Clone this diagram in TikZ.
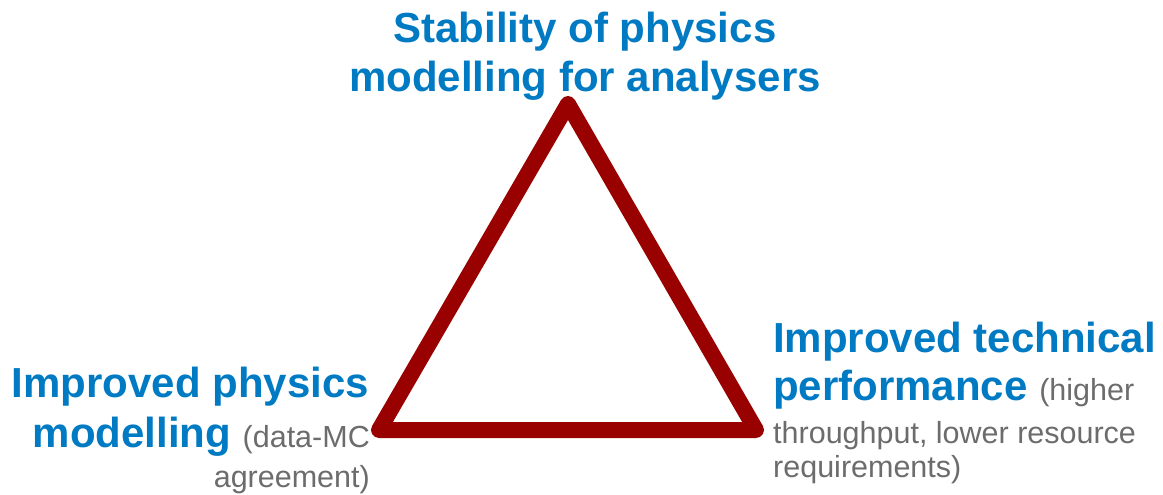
\documentclass[tikz,border=0pt]{standalone}
\usepackage{fontspec}
\setmainfont{Liberation Sans}
\definecolor{titleblue}{RGB}{0,122,194}
\definecolor{notegray}{RGB}{108,108,108}
\definecolor{trired}{RGB}{153,0,0}
\tikzset{
  headline/.style={font=\bfseries\fontsize{42}{50}\selectfont, text=titleblue, inner sep=0pt},
  noteline/.style={font=\fontsize{30.5}{36}\selectfont, text=notegray, inner sep=0pt},
  triline/.style={line width=16pt, draw=trired, line join=round}
}
\newcommand{\gnote}[1]{{\color{notegray}\mdseries\fontsize{30.5}{36}\selectfont #1}}
\begin{document}
\begin{tikzpicture}[x=1pt,y=-1pt]
\useasboundingbox (0,0) rectangle (1163,495);
\coordinate (A) at (568,104);
\coordinate (B) at (379,430);
\coordinate (C) at (756,430);
\draw[triline] (A) -- (B) -- (C) -- cycle;
% top
\node[headline, anchor=base] (t1) at (585,43) {Stability of physics};
\node[headline, anchor=base] (t2) at (585,92) {modelling for analysers};
% left
\node[headline, anchor=base east] (l1) at (369,397) {Improved physics};
\node[headline, anchor=base east] (l2) at (370,447) {modelling \gnote{(data-MC}};
\node[noteline, anchor=base east] (l3) at (370,487) {agreement)};
% right
\node[headline, anchor=base west] (r1) at (773,352) {Improved technical};
\node[headline, anchor=base west] (r2) at (773,400) {performance \gnote{(higher}};
\node[noteline, anchor=base west] (r3) at (773,443) {throughput, lower resource};
\node[noteline, anchor=base west] (r4) at (773,477) {requirements)};
\end{tikzpicture}
\end{document}
